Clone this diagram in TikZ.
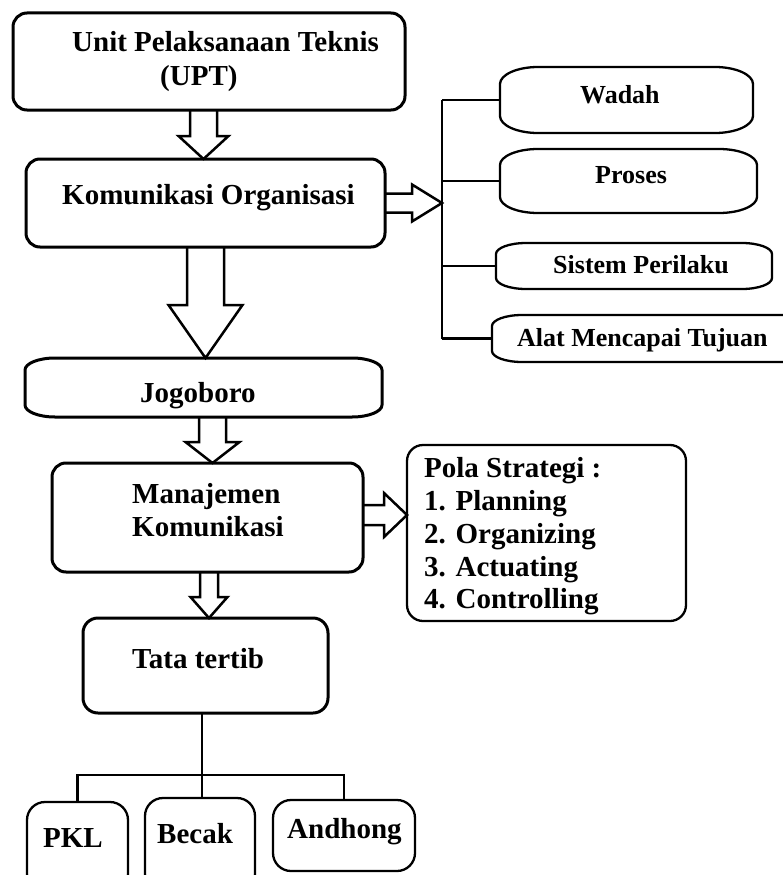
\documentclass[tikz,border=0pt]{standalone}
\usepackage{fontspec}
\setmainfont{Liberation Serif}
\usetikzlibrary{calc}
\tikzset{
  boxthick/.style={draw, rounded corners=14pt, line width=3pt, inner sep=0pt, outer sep=0pt},
  boxthin/.style={draw, rounded corners=14pt, line width=2.3pt, inner sep=0pt, outer sep=0pt},
  ghost/.style={inner sep=0pt, outer sep=0pt},
  hollow/.style={draw, fill=white, line width=2.5pt, line join=miter},
  conn/.style={line width=2.6pt},
  bigtxt/.style={font=\fontsize{29}{33}\selectfont\bfseries, inner sep=0pt, anchor=base west},
  smalltxt/.style={font=\fontsize{26}{30}\selectfont\bfseries, inner sep=0pt, anchor=base west},
}
\newcommand{\scrollbox}[4]{%
\draw[#4] ($(#1.north west)+(0,#3)$) .. controls ($(#1.north west)+(0,0.45*#3)$) and ($(#1.north west)+(0.45*#2,0)$) .. ($(#1.north west)+(#2,0)$)
 -- ($(#1.north east)+(-#2,0)$) .. controls ($(#1.north east)+(-0.45*#2,0)$) and ($(#1.north east)+(0,0.45*#3)$) .. ($(#1.north east)+(0,#3)$)
 -- ($(#1.south east)+(0,-#3)$) .. controls ($(#1.south east)+(0,-0.45*#3)$) and ($(#1.south east)+(-0.45*#2,0)$) .. ($(#1.south east)+(-#2,0)$)
 -- ($(#1.south west)+(#2,0)$) .. controls ($(#1.south west)+(0.45*#2,0)$) and ($(#1.south west)+(0,-0.45*#3)$) .. ($(#1.south west)+(0,-#3)$) -- cycle;}
\newcommand{\hollowdown}[6]{%
\draw[hollow] let \p1=(#1.south), \p2=(#2.north) in
 ({\x1+(#3pt)-#4pt},\y1) -- ({\x1+(#3pt)-#4pt},{\y2+#6pt}) -- ({\x1+(#3pt)-#5pt},{\y2+#6pt}) -- ({\x1+(#3pt)},\y2)
 -- ({\x1+(#3pt)+#5pt},{\y2+#6pt}) -- ({\x1+(#3pt)+#4pt},{\y2+#6pt}) -- ({\x1+(#3pt)+#4pt},\y1);}
\newcommand{\hollowright}[6]{%
\draw[hollow] let \p1=(#1.east), \p2=(#2) in
 (\x1,{\y1+(#3pt)+#4pt}) -- ({\x2-#6pt},{\y1+(#3pt)+#4pt}) -- ({\x2-#6pt},{\y1+(#3pt)+#5pt}) -- (\x2,{\y1+(#3pt)})
 -- ({\x2-#6pt},{\y1+(#3pt)-#5pt}) -- ({\x2-#6pt},{\y1+(#3pt)-#4pt}) -- (\x1,{\y1+(#3pt)-#4pt});}
\begin{document}
\begin{tikzpicture}[x=1pt,y=-1pt]
\useasboundingbox (0,0) rectangle (783,875);
\fill[white] (0,0) rectangle (783,875);
\clip (0,0) rectangle (783,875);

% ---- nodes (shapes) ----
\node[ghost, minimum width=392pt, minimum height=97pt] (upt) at (209,61.5) {};
\node[ghost, minimum width=359pt, minimum height=88pt] (ko) at (205.5,203) {};
\node[ghost, minimum width=357pt, minimum height=59pt] (jog) at (203.5,387.5) {};
\node[ghost, minimum width=311pt, minimum height=109pt] (man) at (207.5,517.5) {};
\node[ghost, minimum width=279pt, minimum height=176pt] (pola) at (546.5,533) {};
\node[ghost, minimum width=245pt, minimum height=95pt] (tata) at (205.5,665.5) {};
\node[ghost, minimum width=101pt, minimum height=90pt] (pkl) at (77.5,847) {};
\node[ghost, minimum width=110pt, minimum height=94pt] (becak) at (200,845) {};
\node[ghost, minimum width=142pt, minimum height=71pt] (andhong) at (344,835.5) {};
\node[ghost, minimum width=253pt, minimum height=66pt] (wadah) at (626.5,100) {};
\node[ghost, minimum width=257pt, minimum height=64pt] (proses) at (628.5,181) {};
\node[ghost, minimum width=276pt, minimum height=46pt] (sistem) at (634,266) {};
\node[ghost, minimum width=318pt, minimum height=47pt] (alat) at (651,338.5) {};
\coordinate (trunk) at (442,203);
\coordinate (bus) at (202,775);

% ---- hollow arrows ----
\hollowdown{upt}{ko}{-5.5}{13.5}{25}{23}
\hollowdown{ko}{jog}{0}{18.5}{37}{53}
\hollowdown{jog}{man}{9}{13.5}{27}{21}
\hollowdown{man}{tata}{1.5}{9}{18.5}{21}
\hollowright{ko}{trunk}{0}{9.5}{18.5}{30}
\hollowright{man}{pola.west}{2.5}{10}{22}{23}

% ---- box outlines ----
\draw[boxthick] (upt.north west) rectangle (upt.south east);
\draw[boxthick] (ko.north west) rectangle (ko.south east);
\draw[boxthick] (man.north west) rectangle (man.south east);
\draw[boxthick, rounded corners=15pt] (tata.north west) rectangle (tata.south east);
\draw[boxthin, rounded corners=16pt] (pola.north west) rectangle (pola.south east);
\draw[boxthin, rounded corners=18pt] (pkl.north west) rectangle (pkl.south east);
\draw[boxthin, rounded corners=18pt] (becak.north west) rectangle (becak.south east);
\draw[boxthin, rounded corners=18pt] (andhong.north west) rectangle (andhong.south east);
\scrollbox{jog}{30}{12}{line width=3pt}
\scrollbox{wadah}{38}{17}{line width=2.3pt}
\scrollbox{proses}{38}{16}{line width=2.3pt}
\scrollbox{sistem}{30}{11}{line width=2.3pt}
\scrollbox{alat}{30}{11}{line width=2.3pt}

% ---- connectors ----
\draw[conn] (wadah.west -| trunk) -- (alat.west -| trunk);
\draw[conn] (wadah.west -| trunk) -- (wadah.west);
\draw[conn] (proses.west -| trunk) -- (proses.west);
\draw[conn] (sistem.west -| trunk) -- (sistem.west);
\draw[conn] (alat.west -| trunk) -- (alat.west);
\draw[conn] (tata.south -| bus) -- (becak.north -| bus);
\draw[conn] (pkl.north) -- (pkl.north |- bus) -- (andhong.north |- bus) -- (andhong.north);

% ---- texts ----
\node[bigtxt] (t-upt1) at (72,52) {Unit Pelaksanaan Teknis};
\node[bigtxt] (t-upt2) at (160,85) {(UPT)};
\node[bigtxt] (t-ko) at (62,204) {Komunikasi Organisasi};
\node[bigtxt] (t-jog) at (140,402) {Jogoboro};
\node[bigtxt] (t-man1) at (132,503) {Manajemen};
\node[bigtxt] (t-man2) at (132,536) {Komunikasi};
\node[bigtxt] (t-p0) at (424,477) {Pola Strategi :};
\node[bigtxt] (t-p1) at (424,510) {1. Planning};
\node[bigtxt] (t-p2) at (424,543) {2. Organizing};
\node[bigtxt] (t-p3) at (424,576) {3. Actuating};
\node[bigtxt] (t-p4) at (424,608) {4. Controlling};
\node[bigtxt] (t-tata) at (132,668) {Tata tertib};
\node[bigtxt] (t-pkl) at (43,847) {PKL};
\node[bigtxt] (t-becak) at (157,843) {Becak};
\node[bigtxt] (t-andhong) at (287,838) {Andhong};
\node[smalltxt] (t-wadah) at (580,103) {Wadah};
\node[smalltxt] (t-proses) at (595,183) {Proses};
\node[smalltxt] (t-sistem) at (553,273) {Sistem Perilaku};
\node[smalltxt] (t-alat) at (517,346) {Alat Mencapai Tujuan};
\end{tikzpicture}
\end{document}
